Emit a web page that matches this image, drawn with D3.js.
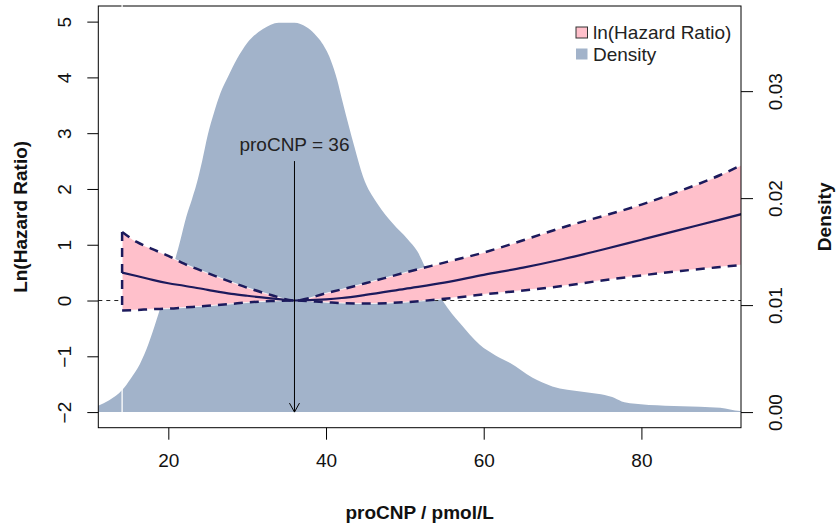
<!DOCTYPE html>
<html>
<head>
<meta charset="utf-8">
<script src="https://cdn.jsdelivr.net/npm/d3@7"></script>
<style>
  body { margin: 0; background: #fff; }
  text { font-family: "Liberation Sans", Arial, sans-serif; }
</style>
</head>
<body>
<svg id="chart" width="836" height="527"></svg>
<script>
// density of proCNP (right axis)
const densX = [10, 11.1, 12.5, 14.2, 15.2, 16.4, 17.5, 18.5, 19.5, 20.6, 21.5, 22.3, 23.0, 23.5, 24.3, 25.0, 25.8, 26.6, 27.6, 28.7,
    30, 32, 34, 36, 37.5, 38.5, 39.3, 40.6, 41.4, 42.1, 43.6, 44.7, 46.5, 48.5, 50.3, 51.6, 53.2, 54.9, 57.0, 59.5, 61.5, 63.3,
    66.2, 68.7, 72.5, 76.3, 77.5, 78.9, 83, 87.4, 90, 92.5, 94];
const densY = [0.0004, 0.0006, 0.0011, 0.0021, 0.0031, 0.0045, 0.0064, 0.0086, 0.0110, 0.0136, 0.0160, 0.0183, 0.0199, 0.0211, 0.0235, 0.0259, 0.0280, 0.0298, 0.0314, 0.0330,
    0.0345, 0.0358, 0.0364, 0.0364, 0.0360, 0.0354, 0.0347, 0.0329, 0.0311, 0.0290, 0.0248, 0.0220, 0.0195, 0.0176, 0.0162, 0.0150, 0.0125, 0.0103, 0.0083, 0.0063, 0.0053, 0.0046,
    0.0032, 0.0024, 0.0019, 0.0014, 0.0010, 0.0008, 0.0006, 0.0005, 0.0004, 0.0001, 0.0001];

// ln(hazard ratio) with confidence band (left axis)
const hrX = [14.14, 16, 18, 20, 22, 25, 28, 30, 33, 36, 40, 42, 45, 50, 55, 60, 65, 70, 75, 80, 85, 90, 93];
const hrFit = [0.50, 0.44, 0.37, 0.31, 0.265, 0.19, 0.12, 0.085, 0.04, 0, 0.02, 0.045, 0.10, 0.21, 0.32, 0.46, 0.59, 0.74, 0.91, 1.09, 1.27, 1.45, 1.56];
const hrUpper = [1.23, 1.05, 0.92, 0.80, 0.66, 0.49, 0.33, 0.23, 0.10, 0, 0.13, 0.20, 0.31, 0.50, 0.68, 0.86, 1.08, 1.31, 1.51, 1.72, 1.97, 2.25, 2.45];
const hrLower = [-0.18, -0.17, -0.155, -0.145, -0.125, -0.095, -0.06, -0.035, -0.01, 0, -0.03, -0.045, -0.055, -0.03, 0.03, 0.11, 0.18, 0.26, 0.36, 0.45, 0.53, 0.60, 0.64];

const xTicks = [20, 40, 60, 80];
const yTicks = [-2, -1, 0, 1, 2, 3, 4, 5];
const densTicks = [0, 0.01, 0.02, 0.03];
const refValue = 36;
const legendLabels = ["ln(Hazard Ratio)", "Density"];

const box = { left: 98.3, right: 741, top: 6, bottom: 427.7 };
const navy = "#1c1a5c", pink = "#ffc0cb", slate = "#a2b3ca";
const fs = 19;
const smooth = d3.curveMonotoneX;

const svg = d3.select("#chart");

const x = d3.scaleLinear().domain([11.12, 92.63]).range([box.left, box.right]);
const y = d3.scaleLinear().domain([-2.28, 5.28]).range([box.bottom, box.top]);
const yd = d3.scaleLinear().domain([-0.00146, 0.03796]).range([box.bottom, box.top]);

svg.append("clipPath").attr("id", "plot-clip")
    .append("rect")
    .attr("x", box.left).attr("y", box.top)
    .attr("width", box.right - box.left).attr("height", box.bottom - box.top);

const plot = svg.append("g").attr("clip-path", "url(#plot-clip)");

// density area
const densArea = d3.area()
    .x((d, i) => x(densX[i]))
    .y0(yd(0))
    .y1(d => yd(d))
    .curve(smooth);
plot.append("path")
    .attr("d", densArea(densY))
    .attr("fill", slate);

// zero reference line
plot.append("line")
    .attr("x1", box.left).attr("x2", box.right)
    .attr("y1", y(0)).attr("y2", y(0))
    .attr("stroke", "#222").attr("stroke-width", 1)
    .attr("stroke-dasharray", "4,4");

// white vertical marker at start of band
plot.append("line")
    .attr("x1", x(hrX[0])).attr("x2", x(hrX[0]))
    .attr("y1", box.top).attr("y2", yd(0))
    .attr("stroke", "#fff").attr("stroke-width", 1.3);

// hazard ratio band
const band = d3.area()
    .x((d, i) => x(hrX[i]))
    .y0((d, i) => y(hrLower[i]))
    .y1(d => y(d))
    .curve(smooth);
plot.append("path")
    .attr("d", band(hrUpper))
    .attr("fill", pink)
    .attr("stroke", "#fff").attr("stroke-width", 0.8);

const line = d3.line().x((d, i) => x(hrX[i])).y(d => y(d)).curve(smooth);
[hrUpper, hrLower].forEach(arr => {
    plot.append("path")
        .attr("d", line(arr))
        .attr("fill", "none")
        .attr("stroke", navy).attr("stroke-width", 2.5)
        .attr("stroke-dasharray", "9,7");
});
plot.append("line")
    .attr("x1", x(hrX[0])).attr("x2", x(hrX[0]))
    .attr("y1", y(hrUpper[0])).attr("y2", y(hrLower[0]))
    .attr("stroke", navy).attr("stroke-width", 2.5)
    .attr("stroke-dasharray", "9,7");
plot.append("path")
    .attr("d", line(hrFit))
    .attr("fill", "none")
    .attr("stroke", navy).attr("stroke-width", 2.2);

// reference arrow
const ax = x(refValue), ay0 = y(2.5), ay1 = y(-2);
svg.append("line")
    .attr("x1", ax).attr("x2", ax).attr("y1", ay0).attr("y2", ay1)
    .attr("stroke", "#000").attr("stroke-width", 1);
svg.append("path")
    .attr("d", `M${ax - 5},${ay1 - 9}L${ax},${ay1}L${ax + 5},${ay1 - 9}`)
    .attr("fill", "none").attr("stroke", "#000").attr("stroke-width", 1);
svg.append("text")
    .attr("x", ax).attr("y", y(2.8))
    .attr("text-anchor", "middle").attr("dominant-baseline", "central")
    .attr("font-size", fs).attr("fill", "#222")
    .text("proCNP = " + refValue);

// frame
svg.append("rect")
    .attr("x", box.left).attr("y", box.top)
    .attr("width", box.right - box.left).attr("height", box.bottom - box.top)
    .attr("fill", "none").attr("stroke", "#000").attr("stroke-width", 1);
// small gap in the top border where the white marker crosses it
svg.append("line")
    .attr("x1", x(hrX[0])).attr("x2", x(hrX[0]))
    .attr("y1", box.top - 1).attr("y2", box.top + 1.5)
    .attr("stroke", "#fff").attr("stroke-width", 1.3);

// axes
const xAxis = svg.append("g")
    .attr("transform", `translate(0,${box.bottom})`)
    .call(d3.axisBottom(x).tickValues(xTicks).tickSize(12).tickPadding(14));
xAxis.selectAll("text").attr("font-size", fs).attr("fill", "#111");

const yAxis = svg.append("g")
    .attr("transform", `translate(${box.left},0)`)
    .call(d3.axisLeft(y).tickValues(yTicks).tickSize(11));
const ydAxis = svg.append("g")
    .attr("transform", `translate(${box.right},0)`)
    .call(d3.axisRight(yd).tickValues(densTicks).tickSize(12).tickFormat(d3.format(".2f")));

[xAxis, yAxis, ydAxis].forEach(g => {
    g.select(".domain").remove();
    g.selectAll("line").attr("stroke", "#000");
    g.attr("font-family", null);
});

yAxis.selectAll("text")
    .attr("x", null).attr("dy", null)
    .attr("transform", "translate(-34,0) rotate(-90)")
    .attr("text-anchor", "middle").attr("dominant-baseline", "central")
    .attr("font-size", fs).attr("fill", "#111");
ydAxis.selectAll("text")
    .attr("x", null).attr("dy", null)
    .attr("transform", "translate(34.5,0) rotate(-90)")
    .attr("text-anchor", "middle").attr("dominant-baseline", "central")
    .attr("font-size", fs).attr("fill", "#111");

// axis titles
svg.append("text")
    .attr("transform", `translate(20,${(box.top + box.bottom) / 2}) rotate(-90)`)
    .attr("text-anchor", "middle").attr("dominant-baseline", "central")
    .attr("font-size", fs).attr("font-weight", "bold").attr("fill", "#111")
    .text("Ln(Hazard Ratio)");
svg.append("text")
    .attr("transform", `translate(824,${(box.top + box.bottom) / 2}) rotate(-90)`)
    .attr("text-anchor", "middle").attr("dominant-baseline", "central")
    .attr("font-size", fs).attr("font-weight", "bold").attr("fill", "#111")
    .text("Density");
svg.append("text")
    .attr("x", (box.left + box.right) / 2).attr("y", 512)
    .attr("text-anchor", "middle").attr("dominant-baseline", "central")
    .attr("font-size", fs).attr("font-weight", "bold").attr("fill", "#111")
    .text("proCNP / pmol/L");

// legend
const legend = svg.append("g").attr("transform", "translate(576,0)");
legendLabels.forEach((label, i) => {
    const cy = 32.5 + i * 21.5;
    legend.append("rect")
        .attr("x", 0).attr("y", cy - 5.5)
        .attr("width", 11.5).attr("height", 11)
        .attr("fill", i === 0 ? pink : slate)
        .attr("stroke", i === 0 ? "#333" : "none").attr("stroke-width", 1);
    legend.append("text")
        .attr("x", 17).attr("y", cy)
        .attr("dominant-baseline", "central")
        .attr("font-size", fs).attr("fill", "#222")
        .text(label);
});
</script>
</body>
</html>
